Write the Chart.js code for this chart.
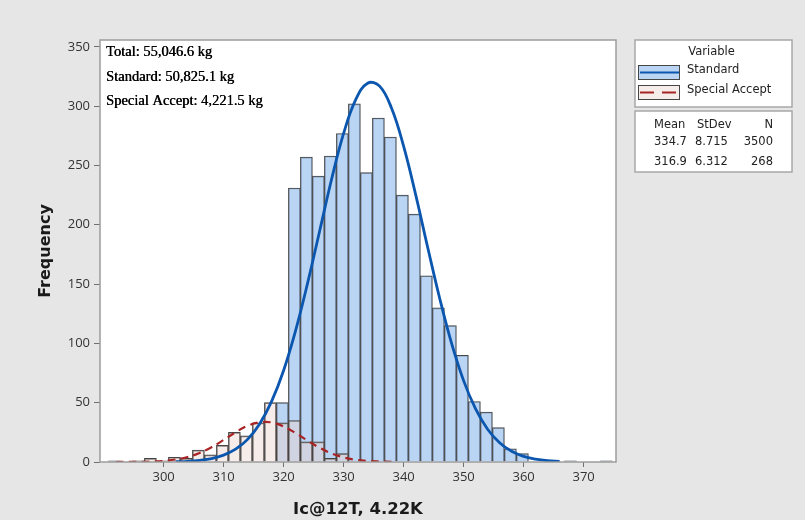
<!DOCTYPE html>
<html><head><meta charset="utf-8">
<script src="https://cdn.jsdelivr.net/npm/chart.js@4/dist/chart.umd.min.js"></script>
<style>html,body{margin:0;padding:0;background:#e6e6e6;} canvas{display:block;}</style>
</head><body>
<canvas id="c" width="805" height="520"></canvas>
<script>
// ---- data ----
const binCenters = [291.8,293.8,295.8,297.8,299.8,301.8,303.8,305.8,307.8,309.8,311.8,313.8,315.8,317.8,319.8,321.8,323.8,325.8,327.8,329.8,331.8,333.8,335.8,337.8,339.8,341.8,343.8,345.8,347.8,349.8,351.8,353.8,355.8,357.8,359.8,361.8,363.8,365.8,367.8,369.8,371.8,373.8];
const standardCounts = [1,0,0,0,0,0,0,0,0,0,0,0,0,0,50,231,257,241,258,277,302,244,290,274,225,209,157,130,115,90,51,42,29,11,7,0,0,0,1,0,0,1];
const specialCounts  = [0,0,1,3,1,4,3,10,6,14,25,22,33,50,33,35,17,17,3,7,0,0,0,0,0,0,0,0,0,0,0,0,0,0,0,0,0,0,0,0,0,0];
const standardFitX = [302,304,306,308,310,312,314,316,318,320,322,324,326,328,330,332,334,336,338,340,342,344,346,348,350,352,354,356,358,360,362,364,366];
const standardFitY = [0.3,0.6,1.4,2.9,5.8,10.8,19.1,32.1,51.1,77.2,110.8,150.8,194.6,238.4,277.0,305.3,319.4,316.9,298.2,266.3,225.6,181.3,138.3,100.0,68.6,44.7,27.6,16.2,9.0,4.7,2.4,1.1,0.5];
const specialFitX = [292,294,296,298,300,302,304,306,308,310,312,314,316,318,320,322,324,326,328,330,332,334,336,338];
const specialFitY = [0.0,0.1,0.1,0.4,0.9,2.1,4.2,7.6,12.5,18.6,25.1,30.5,33.5,33.4,30.0,24.4,18.0,12.0,7.2,3.9,1.9,0.9,0.4,0.1];
const xTicks = [300,310,320,330,340,350,360,370];
const yTicks = [0,50,100,150,200,250,300,350];
const xRange = [289.4, 375.4];
const yRange = [0, 355.8];
const annotationLines = ['Total: 55,046.6 kg','Standard: 50,825.1 kg','Special Accept: 4,221.5 kg'];
const seriesNames = ['Standard','Special Accept'];
const legendTitle = 'Variable';
const statsHeader = ['Mean','StDev','N'];
const statsMean = ['334.7','316.9'];
const statsStDev = ['8.715','6.312'];
const statsN = ['3500','268'];
const xTitle = 'Ic@12T, 4.22K';
const yTitle = 'Frequency';

// ---- styles ----
const BLUE_FILL = 'rgba(160,196,238,0.72)';
const PINK_FILL = 'rgba(235,212,206,0.45)';
const BAR_EDGE = '#454545';
const BLUE_LINE = '#0b56ae';
const RED_LINE = '#a82424';
const BG = '#e6e6e6';

const pts = (xs, ys) => xs.map((x, i) => ({x: x, y: ys[i] === 0 ? null : ys[i]}));
const linePts = (xs, ys) => xs.map((x, i) => ({x: x, y: ys[i]}));

const decor = {
  id: 'decor',
  beforeDraw(chart) {
    const {ctx, chartArea: a} = chart;
    ctx.save();
    ctx.fillStyle = BG;
    ctx.fillRect(0, 0, chart.width, chart.height);
    ctx.fillStyle = '#ffffff';
    ctx.fillRect(a.left, a.top, a.right - a.left, a.bottom - a.top);
    ctx.restore();
  },
  afterDatasetsDraw(chart) {
    const {ctx, chartArea: a} = chart;
    ctx.save();
    ctx.strokeStyle = '#9c9c9c';
    ctx.lineWidth = 1.5;
    ctx.strokeRect(a.left, a.top, a.right - a.left, a.bottom - a.top);
    // annotation text
    ctx.fillStyle = '#000000';
    ctx.font = '14.5px "Liberation Serif", "Times New Roman", serif';
    ctx.textAlign = 'left';
    ctx.textBaseline = 'alphabetic';
    annotationLines.forEach((t, i) => {
      ctx.fillText(t, a.left + 6, 56 + i * 24.5);
      ctx.fillText(t, a.left + 6.35, 56 + i * 24.5);
    });
    ctx.restore();
  },
  afterDraw(chart) {
    const ctx = chart.ctx;
    ctx.save();
    // legend box
    const bx = 635, bw = 157;
    ctx.fillStyle = '#ffffff';
    ctx.strokeStyle = '#a8a8a8';
    ctx.lineWidth = 1.5;
    ctx.fillRect(bx, 40, bw, 67); ctx.strokeRect(bx, 40, bw, 67);
    ctx.fillRect(bx, 111, bw, 61); ctx.strokeRect(bx, 111, bw, 61);
    ctx.fillStyle = '#222';
    ctx.font = '11.5px "DejaVu Sans", sans-serif';
    ctx.textBaseline = 'middle';
    ctx.textAlign = 'center';
    ctx.fillText(legendTitle, 711.5, 52);
    // swatches
    const sw = [{y: 65, fill: BLUE_FILL, line: BLUE_LINE, dash: []}, {y: 85, fill: PINK_FILL, line: RED_LINE, dash: [14, 8]}];
    sw.forEach((s, i) => {
      ctx.fillStyle = '#fff'; ctx.fillRect(638, s.y, 42, 15);
      ctx.fillStyle = s.fill; ctx.fillRect(638, s.y, 42, 15);
      ctx.strokeStyle = BAR_EDGE; ctx.lineWidth = 1; ctx.setLineDash([]);
      ctx.strokeRect(638.5, s.y + 0.5, 41, 14);
      ctx.strokeStyle = s.line; ctx.lineWidth = 2; ctx.setLineDash(s.dash);
      ctx.beginPath(); ctx.moveTo(640, s.y + 7.5); ctx.lineTo(679, s.y + 7.5); ctx.stroke();
      ctx.setLineDash([]);
      ctx.fillStyle = '#222'; ctx.textAlign = 'left';
      ctx.fillText(seriesNames[i], 687, s.y + 5);
    });
    // stats
    ctx.fillStyle = '#222';
    ctx.textAlign = 'left';
    ctx.fillText(statsHeader[0], 654, 125);
    ctx.fillText(statsHeader[1], 697, 125);
    ctx.textAlign = 'right';
    ctx.fillText(statsHeader[2], 773, 125);
    for (let i = 0; i < statsMean.length; i++) {
      const y = 142.5 + i * 19.3;
      ctx.textAlign = 'left';
      ctx.fillText(statsMean[i], 654, y);
      ctx.fillText(statsStDev[i], 695, y);
      ctx.textAlign = 'right';
      ctx.fillText(statsN[i], 773, y);
    }
    ctx.restore();
  }
};

const tickFont = {family: '"Open Sans", "DejaVu Sans", sans-serif', size: 13};

new Chart(document.getElementById('c'), {
  type: 'bar',
  data: {
    datasets: [
      {type: 'line', label: seriesNames[0] + ' fit', data: linePts(standardFitX, standardFitY), borderColor: BLUE_LINE, borderWidth: 2.8, pointRadius: 0, tension: 0.4, fill: false, order: 0},
      {type: 'line', label: seriesNames[1] + ' fit', data: linePts(specialFitX, specialFitY), borderColor: RED_LINE, borderWidth: 2.2, borderDash: [8, 5], pointRadius: 0, tension: 0.4, fill: false, order: 0},
      {label: seriesNames[1], data: pts(binCenters, specialCounts), backgroundColor: PINK_FILL, borderColor: BAR_EDGE, borderWidth: 1, grouped: false, barPercentage: 1, categoryPercentage: 1, order: 1},
      {label: seriesNames[0], data: pts(binCenters, standardCounts), backgroundColor: BLUE_FILL, borderColor: BAR_EDGE, borderWidth: 1, grouped: false, barPercentage: 1, categoryPercentage: 1, order: 2}
    ]
  },
  options: {
    responsive: false,
    animation: false,
    devicePixelRatio: 1,
    layout: {padding: {top: 40, right: 189, left: 0, bottom: 0}},
    plugins: {legend: {display: false}, tooltip: {enabled: false}},
    scales: {
      x: {
        type: 'linear', min: xRange[0], max: xRange[1], offset: false,
        grid: {offset: false, drawOnChartArea: false, drawTicks: true, tickLength: 5, color: '#707070'},
        border: {display: false},
        ticks: {font: tickFont, color: '#333333', padding: 2, maxRotation: 0, autoSkip: false},
        afterBuildTicks: s => { s.ticks = xTicks.map(v => ({value: v})); },
        afterFit: s => { s.height = 58; },
        title: {display: true, text: xTitle, font: {family: '"DejaVu Sans", sans-serif', size: 16.5, weight: 'bold'}, color: '#1a1a1a', padding: {top: 7, bottom: 0}}
      },
      y: {
        type: 'linear', min: yRange[0], max: yRange[1], beginAtZero: true,
        grid: {drawOnChartArea: false, drawTicks: true, tickLength: 6, color: '#707070'},
        border: {display: false},
        ticks: {font: tickFont, color: '#333333', padding: 4},
        afterBuildTicks: s => { s.ticks = yTicks.map(v => ({value: v})); },
        afterFit: s => { s.width = 100; },
        title: {display: true, text: yTitle, font: {family: '"DejaVu Sans", sans-serif', size: 16, weight: 'bold'}, color: '#1a1a1a', padding: {top: 36, bottom: 0}}
      }
    }
  },
  plugins: [decor]
});
</script>
</body></html>
